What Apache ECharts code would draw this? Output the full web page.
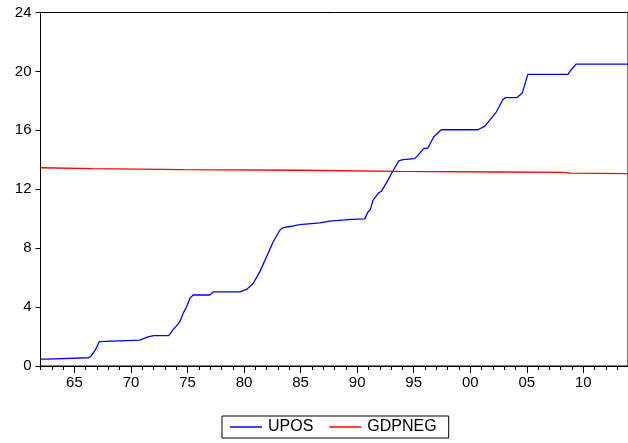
<!DOCTYPE html>
<html>
<head>
<meta charset="utf-8">
<script src="https://cdn.jsdelivr.net/npm/echarts@6/dist/echarts.min.js"></script>
<style>
  html, body { margin: 0; padding: 0; background: #fff; }
  #chart { width: 628px; height: 443px; }
</style>
</head>
<body>
<div id="chart"></div>
<script>
// Quarterly sample, drawn on a fractional-year scale
const uposYears = [1962.0, 1962.57, 1962.66, 1966.26, 1966.46, 1966.75, 1966.99, 1967.19, 1967.34,
  1970.79, 1970.88, 1971.5, 1972.03, 1973.33, 1973.7, 1974.32, 1974.61, 1974.92, 1975.21, 1975.5,
  1976.97, 1977.27, 1979.63, 1980.22, 1980.8, 1981.39, 1981.98, 1982.57, 1983.16, 1983.45, 1984.04,
  1984.92, 1986.69, 1987.57, 1989.49, 1990.67, 1990.96, 1991.17, 1991.4, 1991.9, 1992.14, 1992.64,
  1993.11, 1993.67, 1994.05, 1995.08, 1995.37, 1995.88, 1996.26, 1996.76, 1997.44, 2000.67, 2001.27,
  2001.71, 2002.3, 2002.88, 2003.12, 2004.12, 2004.6, 2005.09, 2008.63, 2008.96, 2009.37, 2013.95];
const uposValues = [0.47, 0.47, 0.56, 0.56, 0.68, 0.97, 1.31, 1.65, 1.76,
  1.76, 1.87, 1.98, 2.06, 2.06, 2.44, 3.0, 3.57, 4.02, 4.59, 4.82,
  4.82, 5.03, 5.03, 5.2, 5.6, 6.39, 7.4, 8.42, 9.22, 9.4, 9.47,
  9.6, 9.72, 9.83, 9.95, 9.99, 10.46, 10.62, 11.25, 11.75, 11.86, 12.5,
  13.17, 13.92, 14.01, 14.08, 14.3, 14.76, 14.8, 15.55, 16.04, 16.04, 16.27,
  16.68, 17.24, 18.08, 18.22, 18.22, 18.53, 19.8, 19.8, 20.15, 20.5, 20.5];

const gdpnegYears = [1962.0, 1966.6, 1974.6, 1984.9, 1993.7, 2002.6, 2008.3, 2008.8, 2013.95];
const gdpnegValues = [13.46, 13.4, 13.33, 13.29, 13.22, 13.17, 13.15, 13.1, 13.06];

const seriesNames = ['UPOS', 'GDPNEG'];
const yTicks = [0, 4, 8, 12, 16, 20, 24];
const labelYears = [1965, 1970, 1975, 1980, 1985, 1990, 1995, 2000, 2005, 2010];
const tickYears = [];
for (let y = 1962; y <= 2013; y++) tickYears.push(y);

const pairs = (xs, ys) => xs.map((x, i) => [x, ys[i]]);
const FONT = 'Liberation Sans, Arial, sans-serif';

const chart = echarts.init(document.getElementById('chart'), null, { renderer: 'canvas' });
chart.setOption({
  animation: false,
  backgroundColor: '#fff',
  grid: {
    left: 40.5, right: -3, top: 12.5, bottom: 77,
    show: true, borderColor: '#000', borderWidth: 1, backgroundColor: 'transparent'
  },
  legend: {
    data: seriesNames,
    left: 222, top: 416,
    orient: 'horizontal',
    borderColor: '#000', borderWidth: 1,
    padding: [3, 12, 3, 8],
    itemGap: 16,
    itemWidth: 32, itemHeight: 1.5,
    icon: 'rect',
    textStyle: { fontFamily: FONT, fontSize: 16, color: '#000', padding: [0, 0, 0, 1] }
  },
  xAxis: [
    {
      type: 'value', min: 1962, max: 2013.95,
      axisLine: { show: true, lineStyle: { color: '#000', width: 1 } },
      axisTick: { show: true, customValues: tickYears, length: 4, lineStyle: { color: '#000' } },
      axisLabel: {
        customValues: labelYears, margin: 9,
        fontFamily: FONT, fontSize: 15, color: '#000',
        formatter: v => String(Math.round(v)).slice(2)
      },
      splitLine: { show: false }
    },
    {
      type: 'value', min: 1962, max: 2013.95, position: 'bottom',
      axisLine: { show: false },
      axisTick: { show: true, customValues: labelYears, length: 7, lineStyle: { color: '#000' } },
      axisLabel: { show: false },
      splitLine: { show: false }
    }
  ],
  yAxis: {
    type: 'value', min: yTicks[0], max: yTicks[yTicks.length - 1], interval: 4,
    axisLine: { show: true, lineStyle: { color: '#000', width: 1 } },
    axisTick: { show: true, length: 5, lineStyle: { color: '#000' } },
    axisLabel: { margin: 9, fontFamily: FONT, fontSize: 15, color: '#000' },
    splitLine: { show: false }
  },
  series: [
    {
      name: seriesNames[0], type: 'line', xAxisIndex: 0,
      data: pairs(uposYears, uposValues),
      showSymbol: false, symbol: 'none',
      color: '#0000ff',
      lineStyle: { color: '#0000ff', width: 1.3 }
    },
    {
      name: seriesNames[1], type: 'line', xAxisIndex: 0,
      data: pairs(gdpnegYears, gdpnegValues),
      showSymbol: false, symbol: 'none',
      color: '#ff0000',
      lineStyle: { color: '#ff0000', width: 1.3 }
    }
  ]
});
</script>
</body>
</html>
